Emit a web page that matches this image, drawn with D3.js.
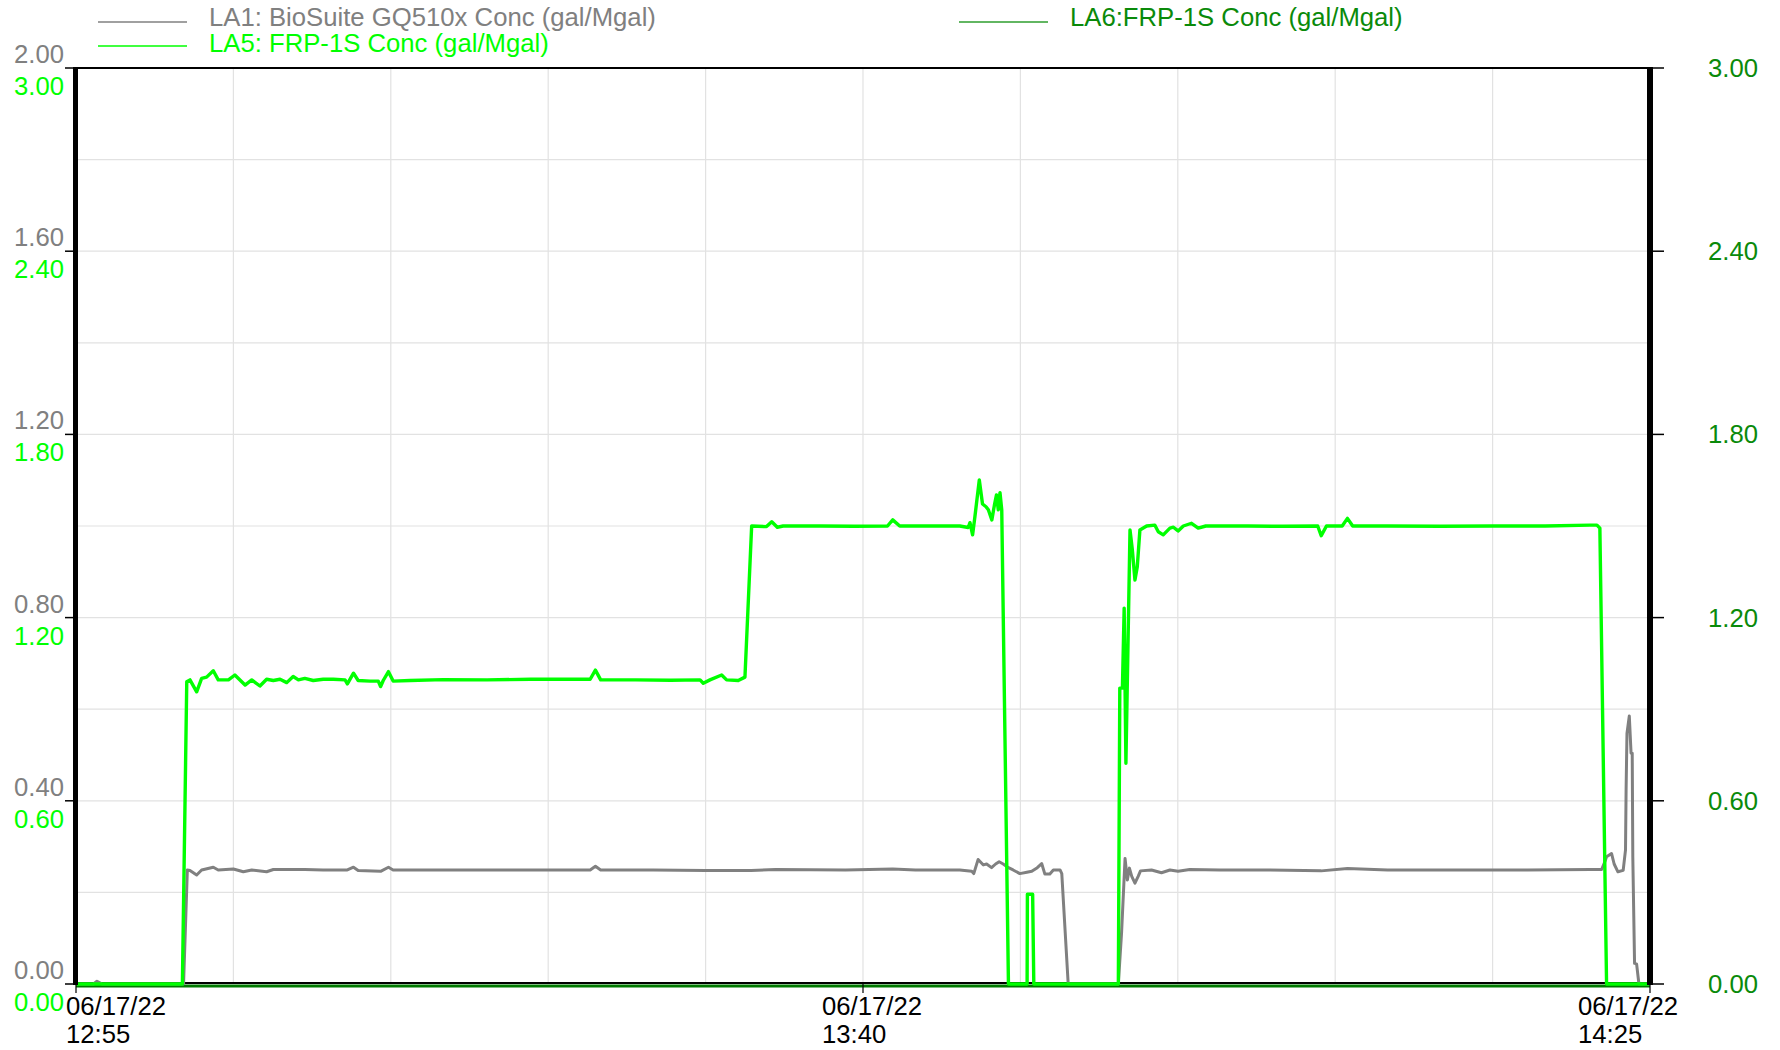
<!DOCTYPE html>
<html><head><meta charset="utf-8">
<script src="https://cdn.jsdelivr.net/npm/d3@7"></script>
<style>
body{margin:0;background:#fff;}
text{font-family:"Liberation Sans",Arial,Helvetica,sans-serif;}
</style>
</head><body>
<svg id="chart" width="1780" height="1050"></svg>
<script>
// ---------- DATA ----------
const startTime = new Date(2022, 5, 17, 12, 55, 0);
const spanMinutes = 90;
const seriesNames = ["LA1: BioSuite GQ510x Conc (gal/Mgal)", "LA5: FRP-1S Conc (gal/Mgal)", "LA6:FRP-1S Conc (gal/Mgal)"];

// LA1 (left gray axis 0-2), minutes after 12:55
const la1Minutes = [0,1.0,1.2,1.5,6.15,6.37,6.52,6.90,7.19,7.85,8.14,9.0,9.57,10.05,10.90,11.28,13.09,14.14,15.51,15.86,16.14,17.42,17.86,18.14,19.10,23,26,29.4,29.7,30.0,33,36,38.6,40,44,46.7,48,50.54,51.21,51.34,51.59,51.88,52.07,52.35,52.58,52.79,53.02,53.31,53.59,53.97,54.36,54.65,54.96,55.21,55.40,55.69,55.88,56.26,56.36,56.73,59.60,59.79,59.98,60.11,60.23,60.36,60.55,60.74,60.87,61.50,62.07,62.55,63.02,63.69,65.41,68,71.2,72.7,75,79,83,86.56,87.23,87.42,87.52,87.80,87.95,88.17,88.46,88.60,88.64,88.68,88.82,88.91,88.98,89.02,89.11,89.24,89.36,90];
const la1Values  = [0,0,0.006,0,0,0.249,0.248,0.238,0.249,0.255,0.249,0.251,0.245,0.249,0.245,0.250,0.250,0.249,0.249,0.255,0.248,0.246,0.255,0.249,0.249,0.249,0.249,0.249,0.257,0.249,0.249,0.248,0.248,0.250,0.249,0.251,0.249,0.249,0.246,0.241,0.272,0.260,0.262,0.254,0.262,0.267,0.262,0.254,0.249,0.241,0.244,0.246,0.254,0.263,0.240,0.240,0.249,0.249,0.241,0,0,0.111,0.274,0.227,0.253,0.235,0.220,0.235,0.247,0.249,0.243,0.249,0.246,0.250,0.249,0.249,0.247,0.252,0.249,0.249,0.249,0.250,0.250,0.267,0.278,0.285,0.262,0.245,0.248,0.293,0.424,0.547,0.585,0.504,0.504,0.278,0.045,0.044,0,0];

// LA5 (green axis 0-3)
const la5Minutes = [0,6.08,6.33,6.52,6.90,7.19,7.47,7.85,8.14,8.71,9.09,9.66,10.05,10.52,10.90,11.28,11.66,12.05,12.42,12.71,13.09,13.57,14.14,14.71,15.38,15.51,15.86,16.14,16.81,17.29,17.42,17.57,17.86,18.14,19.10,21.0,23.5,26.0,28.0,29.4,29.7,30.0,32.0,34.0,35.68,35.87,36.25,36.92,37.20,37.87,38.25,38.63,39.49,39.78,40.10,40.44,42.54,44.5,46.4,46.7,47.1,49.0,50.54,51.02,51.11,51.27,51.40,51.65,51.84,52.03,52.16,52.36,52.51,52.64,52.73,52.83,52.93,53.31,54.39,54.40,54.70,54.77,59.60,59.69,59.84,59.93,60.03,60.26,60.40,60.55,60.68,60.84,61.22,61.69,61.88,62.17,62.55,62.75,63.02,63.31,63.79,64.17,64.60,65.03,67.0,69.0,71.0,71.2,71.5,72.4,72.7,73.0,75.0,78.0,81.0,84.0,86.56,86.96,87.14,87.52,90];
const la5Values  = [0,0,0.990,0.996,0.957,1.001,1.005,1.026,0.996,0.996,1.012,0.979,0.996,0.976,0.998,0.994,0.998,0.987,1.007,0.996,1.001,0.994,0.998,0.998,0.996,0.983,1.018,0.994,0.992,0.992,0.974,0.994,1.023,0.992,0.994,0.997,0.996,0.998,0.998,0.998,1.028,0.996,0.996,0.995,0.996,0.985,0.996,1.012,0.996,0.994,1.005,1.500,1.498,1.514,1.496,1.500,1.500,1.499,1.500,1.520,1.500,1.500,1.500,1.495,1.511,1.471,1.531,1.651,1.572,1.563,1.553,1.520,1.569,1.602,1.553,1.609,1.553,0,0,0.294,0.294,0,0,0.969,0.969,1.231,0.723,1.487,1.422,1.323,1.367,1.487,1.500,1.503,1.481,1.471,1.493,1.496,1.484,1.500,1.509,1.493,1.500,1.500,1.500,1.499,1.500,1.468,1.500,1.500,1.525,1.500,1.500,1.499,1.500,1.500,1.503,1.503,1.493,0,0];

// LA6 (right axis 0-3)
const la6Minutes = [0, 90];
const la6Values  = [0, 0];

const leftGrayTicks  = [0, 0.4, 0.8, 1.2, 1.6, 2.0];
const leftGreenTicks = [0, 0.6, 1.2, 1.8, 2.4, 3.0];
const rightTicks     = [0, 0.6, 1.2, 1.8, 2.4, 3.0];
const xTickMinutes   = [0, 45, 90];
const gridMinutes    = [9, 18, 27, 36, 45, 54, 63, 72, 81];
const gridGray       = [0.2, 0.4, 0.6, 0.8, 1.0, 1.2, 1.4, 1.6, 1.8];

// ---------- LAYOUT ----------
const L = 76, R = 1650, T = 68, B = 984;
const GRAY = "#808080", LIME = "#00ff00", DKGREEN = "#0a8a0a";
const FS = 25.7;

const svg = d3.select("#chart");
const tAt = m => d3.timeSecond.offset(startTime, Math.round(m * 60));
const x = d3.scaleTime().domain([startTime, tAt(spanMinutes)]).range([L, R]);
const yGray = d3.scaleLinear().domain([0, 2]).range([B, T]);
const yGreen = d3.scaleLinear().domain([0, 3]).range([B, T]);

// grid
const g = svg.append("g");
g.selectAll("line.v").data(gridMinutes).join("line")
  .attr("x1", d => x(tAt(d))).attr("x2", d => x(tAt(d)))
  .attr("y1", T).attr("y2", B).attr("stroke", "#e2e2e2").attr("stroke-width", 1.2);
g.selectAll("line.h").data(gridGray).join("line")
  .attr("x1", L).attr("x2", R)
  .attr("y1", d => yGray(d)).attr("y2", d => yGray(d)).attr("stroke", "#e2e2e2").attr("stroke-width", 1.2);

// series
function drawSeries(mins, vals, yScale, color, width, shift) {
  const pts = mins.map((m, i) => [tAt(m), vals[i]]);
  svg.append("path").datum(pts)
    .attr("fill", "none").attr("stroke", color).attr("stroke-width", width)
    .attr("stroke-linejoin", "round")
    .attr("transform", shift ? `translate(0,${shift})` : null)
    .attr("d", d3.line().x(d => x(d[0])).y(d => yScale(d[1])));
}
// bottom black baseline
svg.append("line").attr("x1", L).attr("x2", R).attr("y1", B - 1).attr("y2", B - 1).attr("stroke", "#000").attr("stroke-width", 2);
drawSeries(la6Minutes, la6Values, yGreen, "#007a00", 3, 2);
drawSeries(la1Minutes, la1Values, yGray, GRAY, 3);
drawSeries(la5Minutes, la5Values, yGreen, LIME, 3.4);

// axes frame
svg.append("line").attr("x1", L).attr("x2", R).attr("y1", T).attr("y2", T).attr("stroke", "#000").attr("stroke-width", 2);
svg.append("line").attr("x1", L - 0.5).attr("x2", L - 0.5).attr("y1", T - 1).attr("y2", B + 1).attr("stroke", "#000").attr("stroke-width", 5);
svg.append("line").attr("x1", R).attr("x2", R).attr("y1", T - 1).attr("y2", B + 1).attr("stroke", "#000").attr("stroke-width", 6);

// left axis ticks and labels
const la = svg.append("g");
la.selectAll("line").data(leftGrayTicks).join("line")
  .attr("x1", L - 11).attr("x2", L).attr("y1", d => yGray(d)).attr("y2", d => yGray(d))
  .attr("stroke", "#000").attr("stroke-width", 1.5);
la.selectAll("text.g").data(leftGrayTicks).join("text")
  .attr("x", 64).attr("y", d => yGray(d) - 5).attr("text-anchor", "end")
  .attr("font-size", FS).attr("fill", GRAY).text(d => d3.format(".2f")(d));
la.selectAll("text.n").data(leftGreenTicks).join("text")
  .attr("x", 64).attr("y", d => yGreen(d) + 27).attr("text-anchor", "end")
  .attr("font-size", FS).attr("fill", LIME).text(d => d3.format(".2f")(d));

// right axis
const ra = svg.append("g");
ra.selectAll("line").data(rightTicks).join("line")
  .attr("x1", R).attr("x2", R + 14).attr("y1", d => yGreen(d)).attr("y2", d => yGreen(d))
  .attr("stroke", "#000").attr("stroke-width", 1.5);
ra.selectAll("text").data(rightTicks).join("text")
  .attr("x", 1708).attr("y", d => yGreen(d)).attr("dy", "0.35em")
  .attr("font-size", FS).attr("fill", DKGREEN).text(d => d3.format(".2f")(d));

// x axis ticks and labels
const xa = svg.append("g");
xa.selectAll("line").data(xTickMinutes).join("line")
  .attr("x1", d => x(tAt(d))).attr("x2", d => x(tAt(d))).attr("y1", B).attr("y2", B + 9)
  .attr("stroke", "#000").attr("stroke-width", 1.2);
const fmtD = d3.timeFormat("%m/%d/%y"), fmtT = d3.timeFormat("%H:%M");
xa.selectAll("text.d").data(xTickMinutes).join("text")
  .attr("x", (d, i) => x(tAt(d)) - 10 - 31 * i).attr("y", 1015)
  .attr("font-size", FS).attr("fill", "#000").text(d => fmtD(tAt(d)));
xa.selectAll("text.t").data(xTickMinutes).join("text")
  .attr("x", (d, i) => x(tAt(d)) - 10 - 31 * i).attr("y", 1043)
  .attr("font-size", FS).attr("fill", "#000").text(d => fmtT(tAt(d)));

// legend
const legend = [
  {name: seriesNames[0], color: GRAY, text: GRAY, x: 98, y: 22, ty: 26},
  {name: seriesNames[1], color: LIME, text: LIME, x: 98, y: 46, ty: 52},
  {name: seriesNames[2], color: "#2e9e2e", text: DKGREEN, x: 959, y: 22, ty: 26}
];
const lg = svg.append("g");
lg.selectAll("line").data(legend).join("line")
  .attr("x1", d => d.x).attr("x2", d => d.x + 89).attr("y1", d => d.y).attr("y2", d => d.y)
  .attr("stroke", d => d.color).attr("stroke-width", 1.3);
lg.selectAll("text").data(legend).join("text")
  .attr("x", d => d.x + 111).attr("y", d => d.ty)
  .attr("font-size", FS).attr("fill", d => d.text).text(d => d.name);
</script>
</body></html>
